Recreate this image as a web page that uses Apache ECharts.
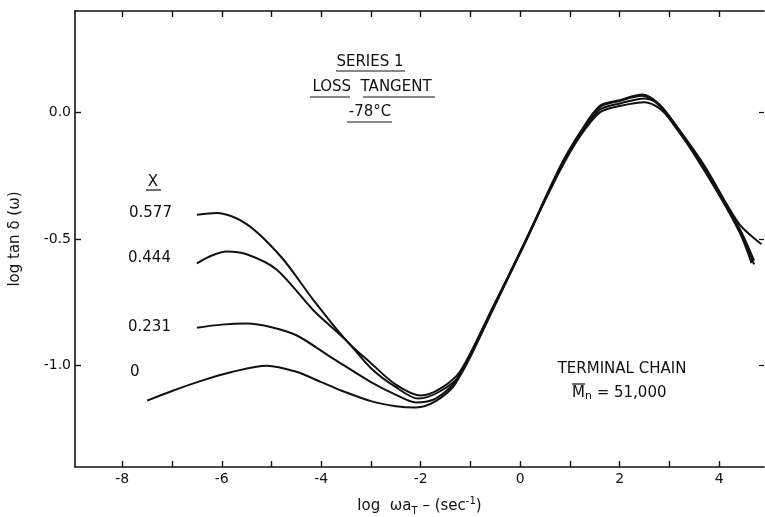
<!DOCTYPE html>
<html>
<head>
<meta charset="utf-8">
<script src="https://cdn.jsdelivr.net/npm/echarts@6/dist/echarts.min.js"></script>
<style>
html,body{margin:0;padding:0;background:#fff;}
#c{width:765px;height:517px;}
</style>
</head>
<body>
<div id="c"></div>
<script>
// ---- data (log ωaT, log tan δ) ----
const x577 = [-6.5, -6.1, -5.5, -4.8, -4.15, -3.5, -3.0, -2.5, -2.0, -1.6, -1.2, -0.55, 0.1, 0.8, 1.2, 1.6, 2.0, 2.45, 2.75, 3.05, 3.7, 4.4, 4.85];
const y577 = [-0.404, -0.397, -0.441, -0.572, -0.743, -0.90, -0.99, -1.075, -1.118, -1.09, -1.02, -0.77, -0.51, -0.215, -0.08, 0.026, 0.048, 0.07, 0.04, -0.03, -0.21, -0.44, -0.52];

const x444 = [-6.5, -6.2, -5.9, -5.5, -4.9, -4.15, -3.5, -3.0, -2.5, -2.05, -1.6, -1.2, -0.55, 0.1, 0.8, 1.2, 1.6, 2.0, 2.45, 2.75, 3.05, 3.7, 4.4, 4.7];
const y444 = [-0.596, -0.565, -0.549, -0.56, -0.62, -0.783, -0.90, -1.01, -1.085, -1.13, -1.10, -1.035, -0.775, -0.515, -0.22, -0.085, 0.02, 0.045, 0.065, 0.035, -0.04, -0.22, -0.455, -0.585];

const x231 = [-6.5, -6.0, -5.5, -5.0, -4.5, -3.8, -3.0, -2.5, -2.1, -1.7, -1.3, -0.6, 0.05, 0.8, 1.2, 1.6, 2.0, 2.5, 2.8, 3.1, 3.7, 4.4, 4.65];
const y231 = [-0.85, -0.838, -0.834, -0.848, -0.88, -0.967, -1.065, -1.115, -1.145, -1.13, -1.06, -0.79, -0.53, -0.22, -0.09, 0.01, 0.035, 0.055, 0.03, -0.045, -0.225, -0.47, -0.595];

const x0 = [-7.5, -7.0, -6.4, -5.8, -5.1, -4.5, -4.0, -3.6, -3.0, -2.5, -2.1, -1.7, -1.3, -0.6, 0.1, 0.8, 1.2, 1.6, 2.0, 2.5, 2.8, 3.1, 3.7, 4.4, 4.7];
const y0 = [-1.138, -1.10, -1.059, -1.025, -1.0, -1.024, -1.065, -1.098, -1.14, -1.16, -1.165, -1.14, -1.07, -0.8, -0.51, -0.23, -0.095, 0.0, 0.025, 0.04, 0.015, -0.05, -0.23, -0.465, -0.6];

const xTicks = [-8, -7, -6, -5, -4, -3, -2, -1, 0, 1, 2, 3, 4];
const xLabels = [-8, -6, -4, -2, 0, 2, 4];
const yTicks = [0, -0.5, -1.0];

const seriesNames = ['0.577', '0.444', '0.231', '0'];
const seriesX = [x577, x444, x231, x0];
const seriesY = [y577, y444, y231, y0];

const FONT = '"DejaVu Sans", sans-serif';
const INK = '#111';

const chart = echarts.init(document.getElementById('c'), null, {renderer: 'canvas'});

const axLine = {show: true, onZero: false, lineStyle: {color: INK, width: 1.6}};

const option = {
  animation: false,
  backgroundColor: '#fff',
  grid: {left: 75, right: 1, top: 11, bottom: 50, containLabel: false, outerBoundsMode: 'none'},
  xAxis: [{
    type: 'value', min: -8.95, max: 4.9, position: 'bottom',
    axisLine: axLine,
    axisTick: {show: true, inside: true, length: 6, customValues: xTicks, lineStyle: {color: INK, width: 1.4}},
    axisLabel: {show: true, customValues: xLabels, color: INK, fontFamily: FONT, fontSize: 14, margin: 5,
      formatter: v => String(v)},
    splitLine: {show: false},
    name: '{n|log  ωa}{t|T}{n| – (sec}{s|-1}{n|)}',
    nameLocation: 'middle', nameGap: 29,
    nameTextStyle: {color: INK, fontFamily: FONT, rich: {
      n: {fontSize: 15, fontFamily: FONT, color: INK, lineHeight: 20},
      t: {fontSize: 10, fontFamily: FONT, color: INK, verticalAlign: 'bottom', lineHeight: 20, padding: [6, 0, 0, 0]},
      s: {fontSize: 10, fontFamily: FONT, color: INK, verticalAlign: 'top', lineHeight: 20}
    }}
  }, {
    type: 'value', min: -8.95, max: 4.9, position: 'top',
    axisLine: axLine,
    axisTick: {show: true, inside: true, length: 6, customValues: xTicks, lineStyle: {color: INK, width: 1.4}},
    axisLabel: {show: false},
    splitLine: {show: false}
  }],
  yAxis: [{
    type: 'value', min: -1.4, max: 0.4, position: 'left',
    axisLine: axLine,
    axisTick: {show: true, inside: true, length: 6, customValues: yTicks, lineStyle: {color: INK, width: 1.4}},
    axisLabel: {show: true, customValues: yTicks, color: INK, fontFamily: FONT, fontSize: 14, margin: 4,
      formatter: v => v.toFixed(1)},
    splitLine: {show: false},
    name: 'log tan δ (ω)', nameLocation: 'middle', nameRotate: 90, nameGap: 52,
    nameTextStyle: {color: INK, fontFamily: FONT, fontSize: 15}
  }, {
    type: 'value', min: -1.4, max: 0.4, position: 'right',
    axisLine: {show: false, onZero: false},
    axisTick: {show: true, inside: true, length: 5, customValues: yTicks, lineStyle: {color: INK, width: 1.2}},
    axisLabel: {show: false},
    splitLine: {show: false}
  }],
  series: seriesNames.map((name, i) => ({
    name: name, type: 'line', xAxisIndex: 0, yAxisIndex: 0,
    data: seriesX[i].map((x, j) => [x, seriesY[i][j]]),
    smooth: 0.3, symbol: 'none', clip: true,
    lineStyle: {color: INK, width: 2}
  })),
  graphic: [
    // title block
    {type: 'text', style: {x: 370, y: 62, text: 'SERIES 1', font: '15px ' + FONT, fill: INK, textAlign: 'center', textVerticalAlign: 'middle'}},
    {type: 'line', shape: {x1: 336, y1: 71, x2: 405, y2: 71}, style: {stroke: INK, lineWidth: 1.2}},
    {type: 'text', style: {x: 372, y: 87, text: 'LOSS  TANGENT', font: '15px ' + FONT, fill: INK, textAlign: 'center', textVerticalAlign: 'middle'}},
    {type: 'line', shape: {x1: 310, y1: 97, x2: 350, y2: 97}, style: {stroke: INK, lineWidth: 1.2}},
    {type: 'line', shape: {x1: 363, y1: 97, x2: 435, y2: 97}, style: {stroke: INK, lineWidth: 1.2}},
    {type: 'text', style: {x: 370, y: 112, text: '-78°C', font: '15px ' + FONT, fill: INK, textAlign: 'center', textVerticalAlign: 'middle'}},
    {type: 'line', shape: {x1: 347, y1: 122, x2: 392, y2: 122}, style: {stroke: INK, lineWidth: 1.2}},
    // series labels
    {type: 'text', style: {x: 153, y: 182, text: 'X', font: '15px ' + FONT, fill: INK, textAlign: 'center', textVerticalAlign: 'middle'}},
    {type: 'line', shape: {x1: 146, y1: 190, x2: 161, y2: 190}, style: {stroke: INK, lineWidth: 1.2}},
    {type: 'text', style: {x: 129, y: 213, text: seriesNames[0], font: '15px ' + FONT, fill: INK, textAlign: 'left', textVerticalAlign: 'middle'}},
    {type: 'text', style: {x: 128, y: 258, text: seriesNames[1], font: '15px ' + FONT, fill: INK, textAlign: 'left', textVerticalAlign: 'middle'}},
    {type: 'text', style: {x: 128, y: 327, text: seriesNames[2], font: '15px ' + FONT, fill: INK, textAlign: 'left', textVerticalAlign: 'middle'}},
    {type: 'text', style: {x: 130, y: 372, text: seriesNames[3], font: '15px ' + FONT, fill: INK, textAlign: 'left', textVerticalAlign: 'middle'}},
    // terminal chain block
    {type: 'text', style: {x: 622, y: 369, text: 'TERMINAL CHAIN', font: '15px ' + FONT, fill: INK, textAlign: 'center', textVerticalAlign: 'middle'}},
    {type: 'text', style: {x: 572, y: 393, text: '{a|M}{b|n}{a| = 51,000}', fill: INK, textAlign: 'left', textVerticalAlign: 'middle',
      rich: {a: {fontSize: 15, fontFamily: FONT, fill: INK, lineHeight: 18}, b: {fontSize: 11, fontFamily: FONT, fill: INK, verticalAlign: 'bottom', lineHeight: 18}}}},
    {type: 'line', shape: {x1: 572, y1: 384, x2: 585, y2: 384}, style: {stroke: INK, lineWidth: 1.2}}
  ]
};
chart.setOption(option);
</script>
</body>
</html>
